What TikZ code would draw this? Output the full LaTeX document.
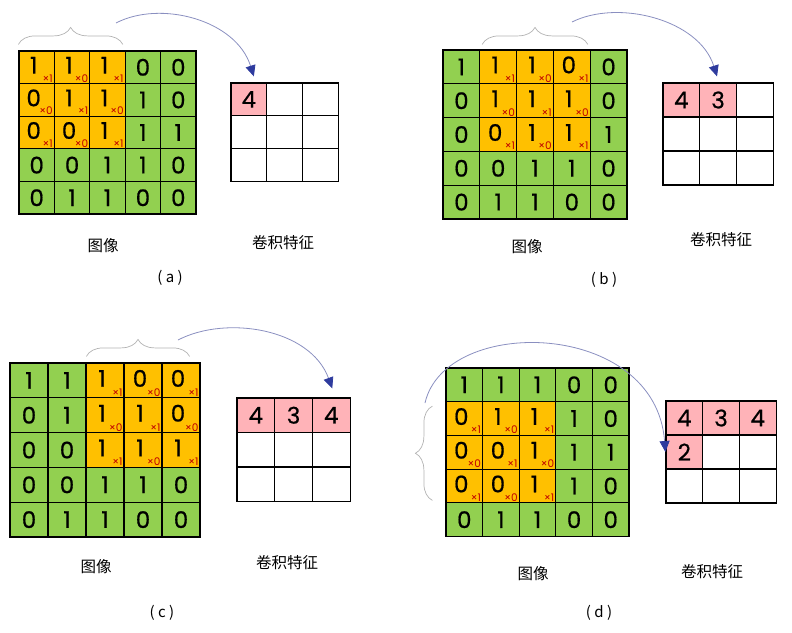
\documentclass[tikz,border=0pt]{standalone}
\usepackage{fontspec}
\setmainfont{Poppins}
\newfontfamily\digitfont[FakeBold=0.6]{Poppins}
\newfontfamily\cjk{Noto Sans CJK SC}
\usetikzlibrary{arrows.meta,decorations.pathreplacing,positioning}

\definecolor{imggreen}{HTML}{92D050}
\definecolor{winorange}{HTML}{FFC000}
\definecolor{featpink}{HTML}{FFB3B8}
\definecolor{multred}{HTML}{C00000}
\definecolor{arcline}{HTML}{8A8FC0}
\definecolor{arctip}{HTML}{2E3B9E}

\tikzset{
  imgcell/.style={draw=black, line width=1.2pt, fill=imggreen, inner sep=0pt,
    font=\digitfont\fontsize{23}{23}\selectfont},
  wincell/.style={imgcell, fill=winorange},
  windigit/.style={inner sep=0pt, font=\digitfont\fontsize{23}{23}\selectfont},
  featcell/.style={draw=black, line width=1.2pt, fill=white, inner sep=0pt,
    font=\digitfont\fontsize{23}{23}\selectfont},
  hitcell/.style={featcell, fill=featpink},
  multlabel/.style={anchor=south east, inner sep=0pt, text=multred,
    font=\fontsize{10.5}{10.5}\selectfont},
  winbrace/.style={draw=gray!60, line width=0.7pt, decorate,
    decoration={brace, amplitude=17pt}},
  slidearc/.style={draw=arcline, line width=0.8pt,
    -{Triangle[length=11pt, width=10pt, color=arctip]}},
  caption/.style={font=\cjk\fontsize{15.5}{15.5}\selectfont},
  panelname/.style={font=\cjk\fontsize{15}{15}\selectfont}
}

% image grid: name, left, top, cell width, cell height, window row, window column
\newcommand{\imagegrid}[7]{%
  \foreach \r/\rowvals in {1/{1,1,1,0,0},2/{0,1,1,1,0},3/{0,0,1,1,1},4/{0,0,1,1,0},5/{0,1,1,0,0}}{%
    \foreach \v [count=\c] in \rowvals {%
      \pgfmathtruncatemacro{\dr}{\r-#6}%
      \pgfmathtruncatemacro{\dc}{\c-#7}%
      \pgfmathtruncatemacro{\inwin}{(\dr>-1)&&(\dr<3)&&(\dc>-1)&&(\dc<3)}%
      \ifnum\inwin=1
        \pgfmathtruncatemacro{\kv}{mod(\dr+\dc+1,2)}%
        \node[wincell, minimum width=#4pt, minimum height=#5pt] (#1-\r-\c)
          at ({#2+(\c-0.5)*#4},{#3+(\r-0.5)*#5}) {};
        \node[windigit] (#1-d-\r-\c) at ([xshift=-3pt,yshift=2pt]#1-\r-\c.center) {\v};
        \node[multlabel] (#1-m-\r-\c) at ([xshift=-2pt,yshift=2pt]#1-\r-\c.south east) {×\kv};
      \else
        \node[imgcell, minimum width=#4pt, minimum height=#5pt] (#1-\r-\c)
          at ({#2+(\c-0.5)*#4},{#3+(\r-0.5)*#5}) {\v};
      \fi
    }%
  }%
}

% feature grid: name, left, top, cell width, cell height, filled cells r/c/value
\newcommand{\featuregrid}[6]{%
  \foreach \r in {1,2,3}{%
    \foreach \c in {1,2,3}{%
      \node[featcell, minimum width=#4pt, minimum height=#5pt] (#1-f-\r-\c)
        at ({#2+(\c-0.5)*#4},{#3+(\r-0.5)*#5}) {};
    }%
  }%
  \foreach \r/\c/\v in {#6}{%
    \node[hitcell, minimum width=#4pt, minimum height=#5pt] (#1-h-\r-\c)
      at (#1-f-\r-\c) {\v};
  }%
}

\begin{document}
\begin{tikzpicture}[x=1pt, y=-1pt]
  \useasboundingbox (0,0) rectangle (792,632);

  % Drawing panel a
  \imagegrid{a}{19}{51}{35.4}{32.6}{1}{1}
  \featuregrid{a}{231}{83}{35.7}{32.7}{1/1/4}
  \draw[winbrace] ([yshift=6pt]a-1-1.north west) -- ([xshift=-3pt,yshift=6pt]a-1-3.north east);
  \coordinate (a-from) at (116,23);
  \draw[slidearc] (a-from) .. controls +(44,-23) and +(-18,-57) .. ([xshift=5pt,yshift=6pt]a-f-1-1.north);
  \node[caption] (a-img) at (103,246) {图像};
  \node[caption] (a-feat) at (283,243) {卷积特征};
  \node[panelname] (a-name) at (170,278) {(~a~)};

  % Drawing panel b
  \imagegrid{b}{443}{50}{36.8}{33.8}{1}{2}
  \featuregrid{b}{663}{83}{36.7}{34}{1/1/4,1/2/3}
  \draw[winbrace] ([xshift=3pt,yshift=5pt]b-1-2.north west) -- ([xshift=-3pt,yshift=5pt]b-1-4.north east);
  \coordinate (b-from) at (572,22);
  \draw[slidearc] (b-from) .. controls +(46,-23) and +(-18,-57) .. ([xshift=-1pt,yshift=6pt]b-f-1-2.north);
  \node[caption] (b-img) at (527,247) {图像};
  \node[caption] (b-feat) at (721,240) {卷积特征};
  \node[panelname] (b-name) at (604,280) {(~b~)};

  % Drawing panel c
  \imagegrid{c}{10}{363}{38}{34.8}{1}{3}
  \featuregrid{c}{237}{398}{37.7}{34.5}{1/1/4,1/2/3,1/3/4}
  \draw[winbrace] ([xshift=1pt,yshift=6pt]c-1-3.north west) -- ([xshift=-11pt,yshift=6pt]c-1-5.north east);
  \coordinate (c-from) at (178,340);
  \draw[slidearc] (c-from) .. controls +(48,-25) and +(-22,-60) .. ([xshift=1pt,yshift=9pt]c-f-1-3.north);
  \node[caption] (c-img) at (96,567) {图像};
  \node[caption] (c-feat) at (287,563) {卷积特征};
  \node[panelname] (c-name) at (162,613) {(~c~)};

  % Drawing panel d
  \imagegrid{d}{446}{368}{36.6}{33.7}{2}{1}
  \featuregrid{d}{666}{401}{36.7}{34}{1/1/4,1/2/3,1/3/4,2/1/2}
  \draw[winbrace] ([xshift=-13pt,yshift=3pt]d-4-1.south west) -- ([xshift=-13pt,yshift=-5pt]d-2-1.north west);
  \coordinate (d-from) at (425,403);
  \draw[slidearc] (d-from) .. controls +(20,-88) and +(-10,-133) .. (d-f-2-1.west);
  \node[caption] (d-img) at (533,574) {图像};
  \node[caption] (d-feat) at (712,572) {卷积特征};
  \node[panelname] (d-name) at (599,613) {(~d~)};
\end{tikzpicture}
\end{document}
